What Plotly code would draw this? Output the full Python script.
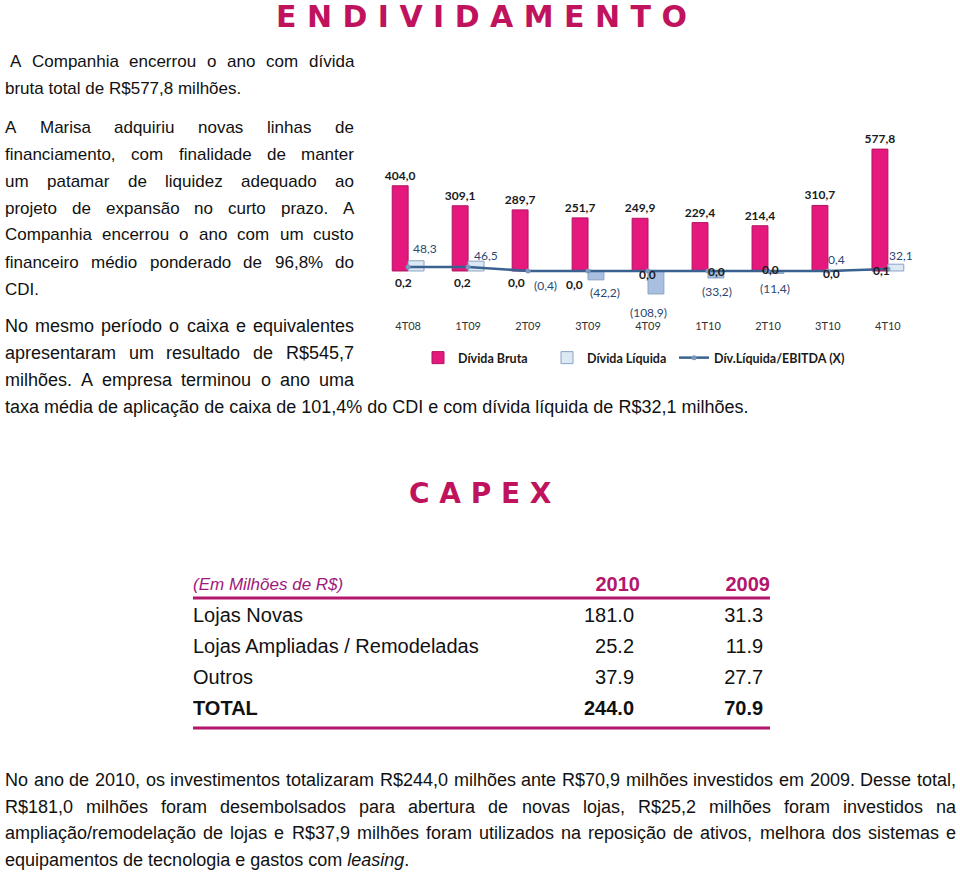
import plotly.graph_objects as go

W, H = 960, 874

# ---------------- data ----------------
categories = ["4T08", "1T09", "2T09", "3T09", "4T09", "1T10", "2T10", "3T10", "4T10"]
divida_bruta = [404.0, 309.1, 289.7, 251.7, 249.9, 229.4, 214.4, 310.7, 577.8]
divida_liquida = [48.3, 46.5, -0.4, -42.2, -108.9, -33.2, -11.4, 0.4, 32.1]
div_liq_ebitda = [0.2, 0.2, 0.0, 0.0, 0.0, 0.0, 0.0, 0.0, 0.1]

capex_header = ["(Em Milhões de R$)", "2010", "2009"]
capex_rows = ["Lojas Novas", "Lojas Ampliadas / Remodeladas", "Outros", "TOTAL"]
capex_2010 = [181.0, 25.2, 37.9, 244.0]
capex_2009 = [31.3, 11.9, 27.7, 70.9]

title_1 = "E N D I V I D A M E N T O"
title_2 = "C A P E X"

para_top = [" A Companhia encerrou o ano com dívida",
            "bruta total de R$577,8 milhões."]
para_marisa = ["A Marisa adquiriu novas linhas de",
               "financiamento, com finalidade de manter",
               "um patamar de liquidez adequado ao",
               "projeto de expansão no curto prazo. A",
               "Companhia encerrou o ano com um custo",
               "financeiro médio ponderado de 96,8% do",
               "CDI."]
para_caixa = ["No mesmo período o caixa e equivalentes",
              "apresentaram um resultado de R$545,7",
              "milhões. A empresa terminou o ano uma",
              "taxa média de aplicação de caixa de 101,4% do CDI e com dívida líquida de R$32,1 milhões."]
para_capex = ["No ano de 2010, os investimentos totalizaram R$244,0 milhões ante R$70,9 milhões investidos em 2009. Desse total,",
              "R$181,0 milhões foram desembolsados para abertura de novas lojas, R$25,2 milhões foram investidos na",
              "ampliação/remodelação de lojas e R$37,9 milhões foram utilizados na reposição de ativos, melhora dos sistemas e",
              "equipamentos de tecnologia e gastos com <i>leasing</i>."]


def br(v):
    s = f"{abs(v):.1f}".replace(".", ",")
    return f"({s})" if v < 0 else s


# ---------------- helpers ----------------
AW = {' ': 278, 'a': 556, 'b': 556, 'c': 500, 'd': 556, 'e': 556, 'f': 278, 'g': 556, 'h': 556,
      'i': 222, 'j': 222, 'k': 500, 'l': 222, 'm': 833, 'n': 556, 'o': 556, 'p': 556, 'q': 556,
      'r': 333, 's': 500, 't': 278, 'u': 556, 'v': 500, 'w': 722, 'x': 500, 'y': 500, 'z': 500,
      'A': 667, 'B': 667, 'C': 722, 'D': 722, 'E': 667, 'F': 611, 'G': 778, 'H': 722, 'I': 278,
      'J': 500, 'K': 667, 'L': 556, 'M': 833, 'N': 722, 'O': 778, 'P': 667, 'Q': 778, 'R': 722,
      'S': 667, 'T': 611, 'U': 722, 'V': 667, 'W': 944, 'X': 667, 'Y': 667, 'Z': 611,
      '.': 278, ',': 278, ':': 278, ';': 278, '%': 889, '$': 556, '/': 278, '(': 333, ')': 333,
      '-': 333, 'á': 556, 'ã': 556, 'â': 556, 'à': 556, 'é': 556, 'ê': 556, 'í': 278, 'ó': 556,
      'õ': 556, 'ô': 556, 'ú': 556, 'ç': 500}
BODY_FAMILY = "Liberation Sans, Arial"


def wid(s, size):
    s = s.replace("<i>", "").replace("</i>", "")
    return sum(AW.get(c, 556) for c in s) / 1000.0 * size


fig = go.Figure()


def add_line(text, x0, x1, y, size, justify):
    font = dict(family=BODY_FAMILY, size=size, color="#111111")
    if justify:
        words = text.split()
        ws = [wid(w, size) for w in words]
        gap = (x1 - x0 - sum(ws)) / (len(words) - 1)
        x = x0
        for w, wd in zip(words, ws):
            fig.add_annotation(text=w, x=x / W, y=1 - y / H, xref="paper", yref="paper",
                               xanchor="left", yanchor="middle", showarrow=False,
                               font=font, borderpad=0)
            x += wd + gap
    else:
        fig.add_annotation(text=text.strip(), x=x0 / W, y=1 - y / H, xref="paper", yref="paper",
                           xanchor="left", yanchor="middle", showarrow=False,
                           font=font, borderpad=0)


# paragraphs
add_line(para_top[0], 9, 353, 61, 17, True)
add_line(para_top[1], 4, 353, 88, 17, False)
for i, ln in enumerate(para_marisa):
    add_line(ln, 4, 353, 127 + 27 * i, 17, i < len(para_marisa) - 1)
caixa_y = [326, 353, 380, 407]
for i, ln in enumerate(para_caixa):
    add_line(ln, 4, 353, caixa_y[i], 18, i < len(para_caixa) - 1)
capex_y = [780, 807, 833, 860]
for i, ln in enumerate(para_capex):
    add_line(ln, 4, 955, capex_y[i], 18, i < len(para_capex) - 1)

# titles
title_font = dict(family="DejaVu Sans", size=30, color="#c0135d", weight="bold")
fig.add_annotation(text=title_1, x=481 / W, y=1 - 16 / H, xref="paper", yref="paper",
                   xanchor="center", yanchor="middle", showarrow=False, font=title_font)
fig.add_annotation(text=title_2, x=480 / W, y=1 - 494 / H, xref="paper", yref="paper",
                   xanchor="center", yanchor="middle", showarrow=False,
                   font=dict(title_font, size=28))

# ---------------- chart ----------------
lab_font = dict(family="Lato", size=12, color="#1a1a1a", weight="bold")
liq_font = dict(family="Lato", size=12, color="#2c4770")
fig.add_bar(x=categories, y=divida_bruta, name="Dívida Bruta",
            marker=dict(color="#e5197d", line=dict(color="#b01260", width=1)),
            text=[br(v) for v in divida_bruta], textposition="outside",
            textfont=lab_font, constraintext="none", cliponaxis=False, legend="legend")
fig.add_bar(x=categories, y=divida_liquida, name="Dívida Líquida",
            marker=dict(color=["#a8bfe0" if v < 0 else "#dce9f5" for v in divida_liquida],
                        line=dict(color="#8aa2c4", width=1)),
            cliponaxis=False, legend="legend")
fig.add_scatter(x=categories, y=div_liq_ebitda, yaxis="y2", name="Dív.Líquida/EBITDA (X)",
                mode="lines+markers", line=dict(color="#3a6290", width=2.5),
                marker=dict(size=5, color="#7d98bd"), cliponaxis=False, legend="legend2")

# value labels for Dívida Líquida (anchored at the bar ends; offsets are styling only)
liq_dx = [17, 18, 17, 17, 0, 9, 7, 9, 13]
liq_dy = [12, 6, -14, -13, -19, -14, -15, 11, 9]
for c, v, dx, dy in zip(categories, divida_liquida, liq_dx, liq_dy):
    fig.add_annotation(x=c, y=v, xref="x", yref="y", text=br(v), showarrow=False,
                       xshift=dx, yshift=dy, yanchor="middle", font=liq_font)

# ratio labels (anchored at the data points; offsets are styling only)
label_dx = [-5, -6, -12, -14, -1, 9, 3, 4, -6]
label_dy = [-16, -16, -12, -14, -4, -1, 1, -3, -2]
for c, v, dx, dy in zip(categories, div_liq_ebitda, label_dx, label_dy):
    fig.add_annotation(x=c, y=v, xref="x", yref="y2", text=br(v), showarrow=False,
                       xshift=dx, yshift=dy, font=lab_font)

# ---------------- table ----------------
tab_font = dict(family="Liberation Sans, Arial", size=20, color="#111111")
head_color = "#b3166c"
fig.add_scatter(x=[0.0], y=[0], xaxis="x3", yaxis="y3", mode="text", showlegend=False,
                text=[capex_header[0]], textposition="middle right",
                textfont=dict(family="Liberation Sans, Arial", size=17, color="#a0187a", style="italic"))
fig.add_scatter(x=[2.324, 3.0], y=[0, 0], xaxis="x3", yaxis="y3", mode="text", showlegend=False,
                text=capex_header[1:], textposition="middle left",
                textfont=dict(family="Liberation Sans, Arial", size=20, color=head_color, weight="bold"))
row_idx = [i + 1 for i in range(len(capex_rows))]
last = len(capex_rows) - 1


def bold_last(items):
    return [f"<b>{t}</b>" if i == last else t for i, t in enumerate(items)]


fig.add_scatter(x=[0.0] * len(capex_rows), y=row_idx, xaxis="x3", yaxis="y3", mode="text",
                showlegend=False, text=bold_last(capex_rows), textposition="middle right",
                textfont=tab_font)
fig.add_scatter(x=[2.293] * len(capex_rows), y=row_idx, xaxis="x3", yaxis="y3", mode="text",
                showlegend=False, text=bold_last([f"{v:.1f}" for v in capex_2010]),
                textposition="middle left", textfont=tab_font)
fig.add_scatter(x=[2.964] * len(capex_rows), y=row_idx, xaxis="x3", yaxis="y3", mode="text",
                showlegend=False, text=bold_last([f"{v:.1f}" for v in capex_2009]),
                textposition="middle left", textfont=tab_font)

for yy in (598, 728):
    fig.add_shape(type="line", xref="paper", yref="paper", x0=193 / W, x1=770 / W,
                  y0=1 - yy / H, y1=1 - yy / H, line=dict(color=head_color, width=3))

k = 0.0105
leg_font = dict(family="Lato", size=12.5, color="#1a1a1a", weight="bold")
fig.update_layout(
    width=W, height=H, margin=dict(l=0, r=0, t=0, b=0),
    paper_bgcolor="white", plot_bgcolor="rgba(0,0,0,0)",
    barmode="group", bargap=0.47, bargroupgap=0,
    xaxis=dict(domain=[378 / W, 918 / W], type="category", showgrid=False, showline=False,
               zeroline=False, ticks="", tickfont=dict(family="Lato", size=11, color="#333333"),
               fixedrange=True),
    yaxis=dict(domain=[1 - 318 / H, 1 - 136 / H], range=[-223, 640], visible=False,
               fixedrange=True),
    yaxis2=dict(overlaying="y", range=[-223 * k, 640 * k], visible=False, fixedrange=True),
    xaxis3=dict(domain=[193 / W, 770 / W], range=[0, 3], visible=False, anchor="y3",
                fixedrange=True),
    yaxis3=dict(domain=[1 - 725.5 / H, 1 - 570.5 / H], range=[4.5, -0.5], visible=False,
                anchor="x3", fixedrange=True),
    showlegend=True,
    legend=dict(orientation="h", x=418 / W, y=1 - 358 / H, xanchor="left", yanchor="middle",
                font=leg_font, bgcolor="rgba(0,0,0,0)", traceorder="normal", entrywidth=84),
    legend2=dict(orientation="h", x=674 / W, y=1 - 358 / H, xanchor="left", yanchor="middle",
                 font=leg_font, bgcolor="rgba(0,0,0,0)"),
)

fig.write_html("out.html", config={"displayModeBar": False},
               post_script="document.body.style.margin='0';")
